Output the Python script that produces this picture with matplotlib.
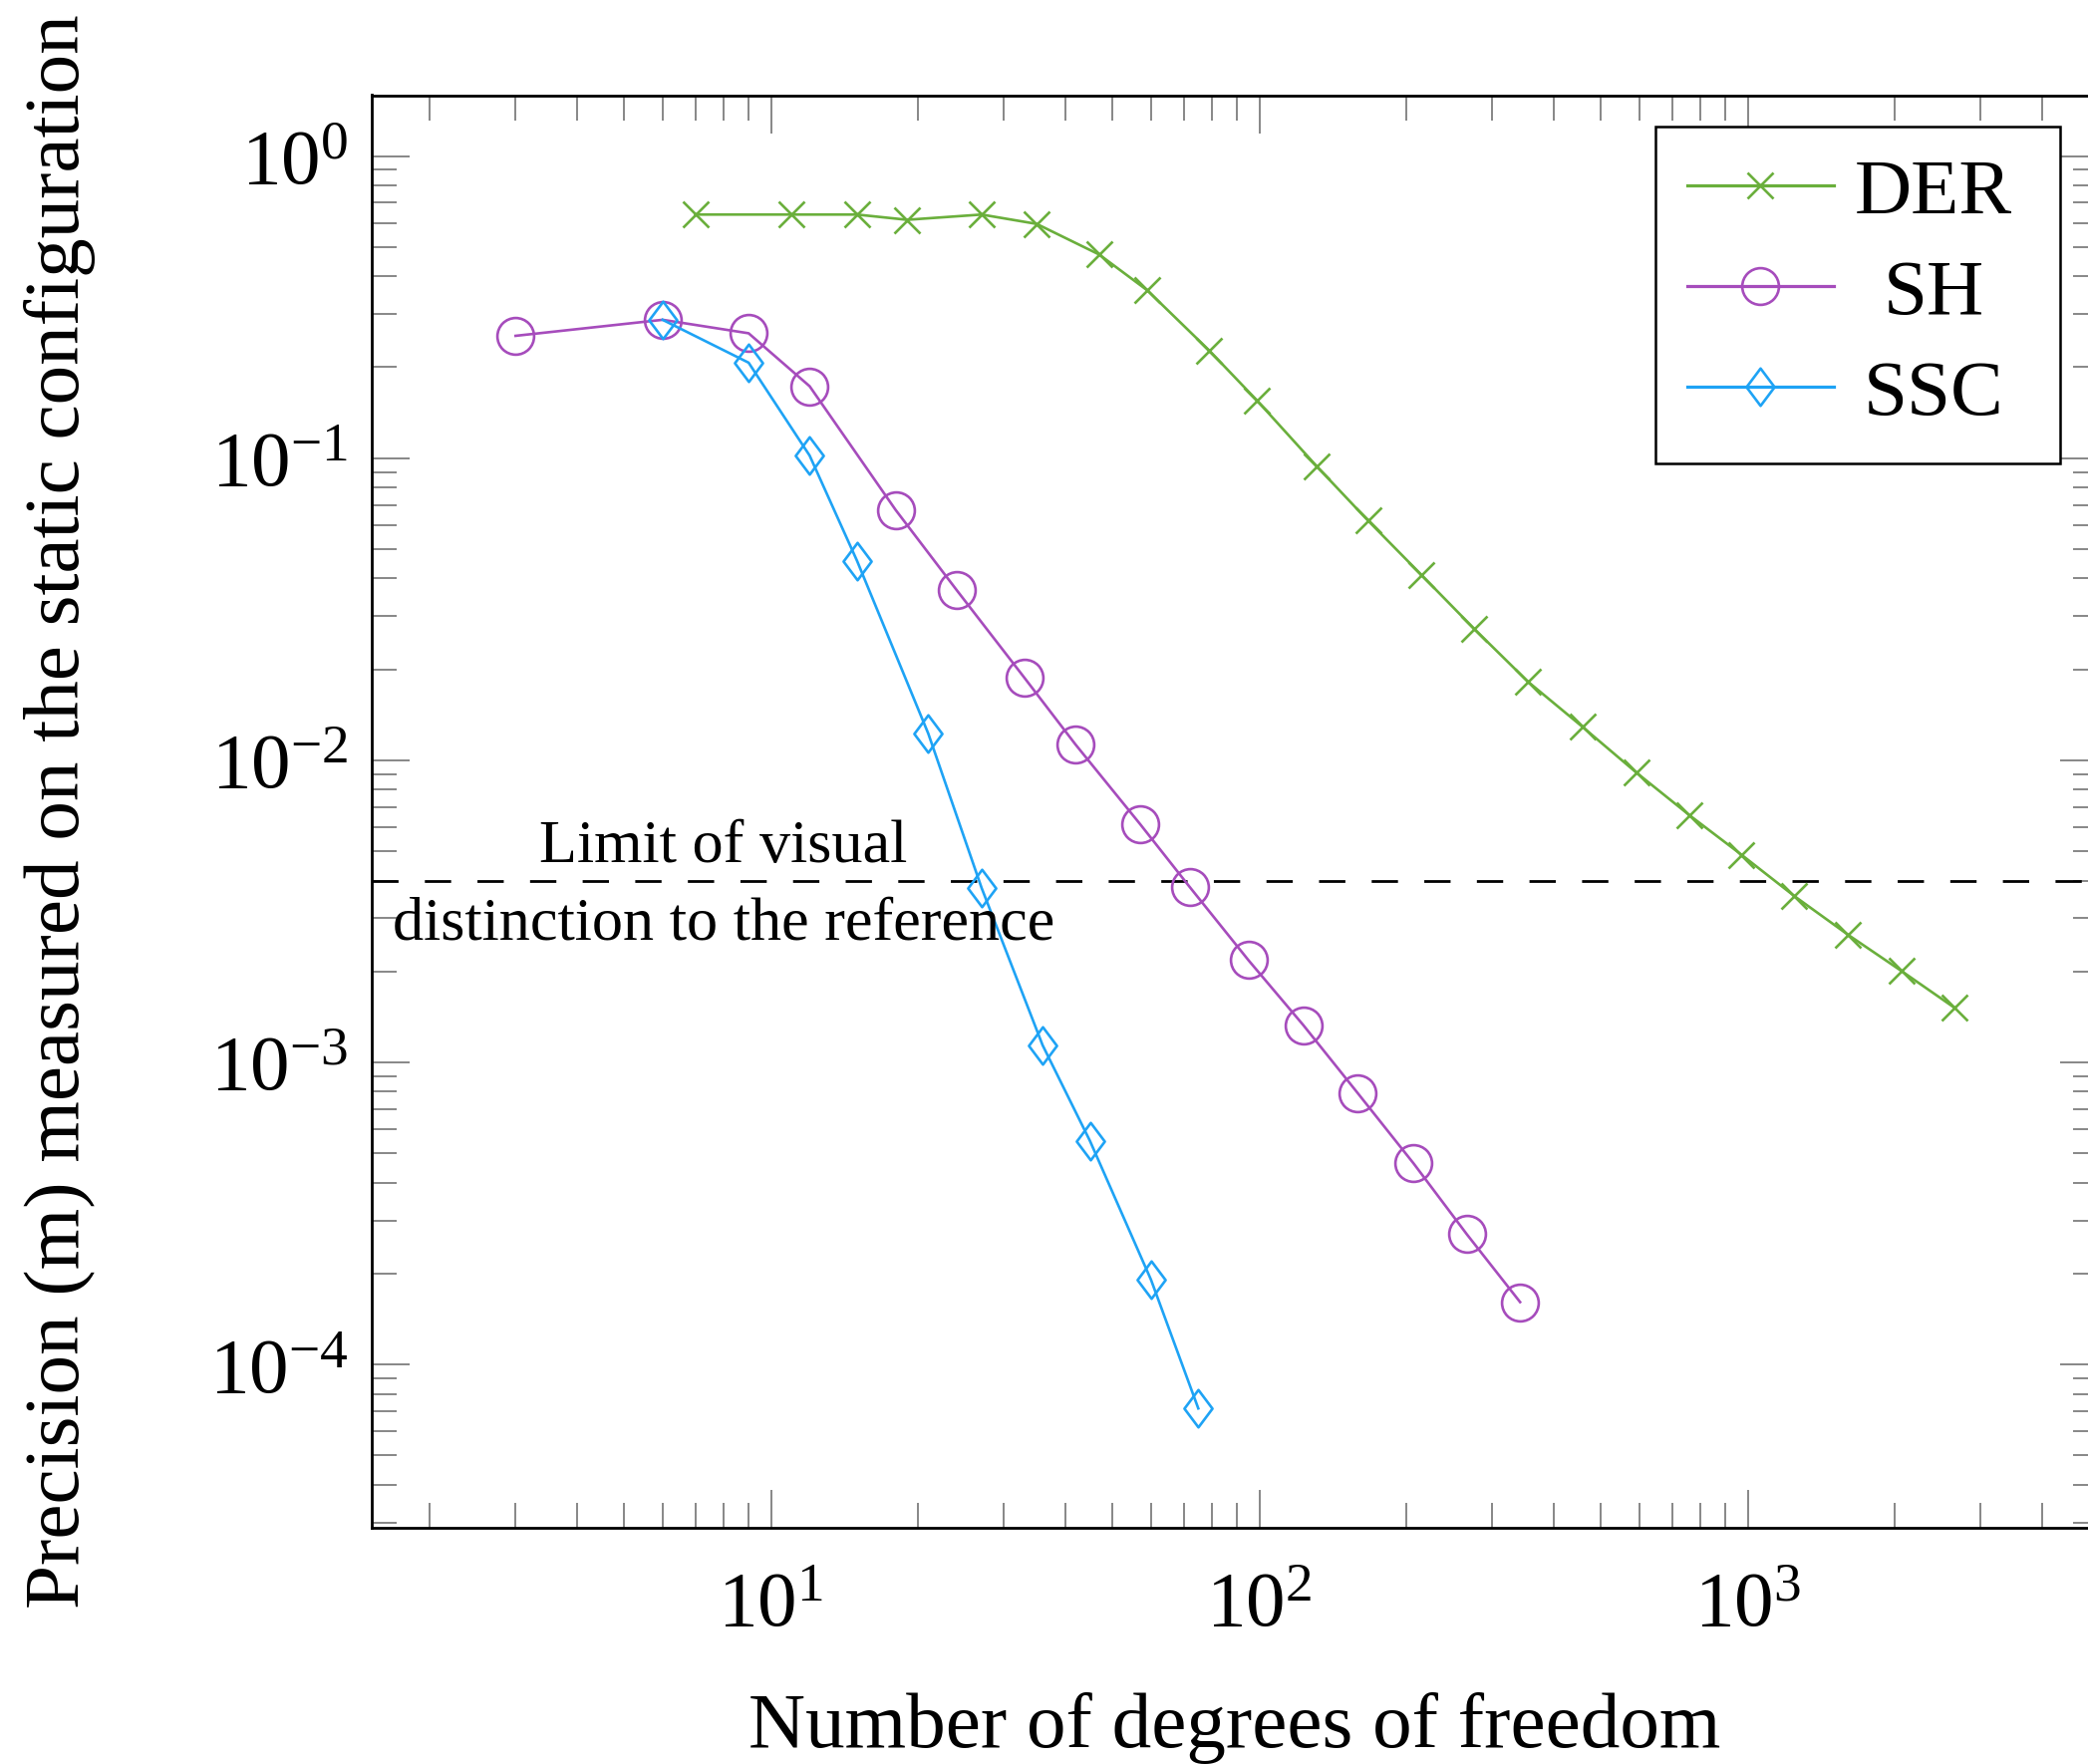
import numpy as np
import matplotlib
matplotlib.use("Agg")
import matplotlib.pyplot as plt
from matplotlib.path import Path
from matplotlib.ticker import LogLocator, NullFormatter

plt.rcParams['font.family'] = ['Liberation Serif', 'DejaVu Serif']
plt.rcParams['mathtext.fontset'] = 'stix'

# degrees of freedom vs precision (m)
der_dof = [7, 11, 15, 19, 27, 35, 47, 59, 79, 99, 131, 167, 215, 275, 355,
           459, 591, 759, 971, 1247, 1603, 2063, 2647]
der_err = [0.64, 0.64, 0.64, 0.615, 0.64, 0.596, 0.472, 0.359, 0.227, 0.155,
           0.0941, 0.0621, 0.0410, 0.0273, 0.0182, 0.0129, 0.00912, 0.00659,
           0.00487, 0.00355, 0.00265, 0.00201, 0.00152]

sh_dof = [3, 6, 9, 12, 18, 24, 33, 42, 57, 72, 95, 123, 159, 207, 266, 342]
sh_err = [0.254, 0.287, 0.259, 0.173, 0.0674, 0.0366, 0.0188, 0.0113, 0.00615,
          0.00381, 0.00218, 0.00133, 0.000792, 0.000463, 0.000270, 0.000161]

ssc_dof = [6, 9, 12, 15, 21, 27, 36, 45, 60, 75]
ssc_err = [0.287, 0.207, 0.102, 0.0458, 0.01225, 0.00378, 0.00114, 0.00055,
           0.000191, 0.0000716]

visualLimit = 0.004
seriesLabels = ['DER', 'SH', 'SSC']

colors = ['#6aaf3c', '#a64cbc', '#1ea3f5']
diamond = Path([(0, 1), (0.75, 0), (0, -1), (-0.75, 0), (0, 1)],
               [Path.MOVETO, Path.LINETO, Path.LINETO, Path.LINETO, Path.CLOSEPOLY])
markers = ['x', 'o', diamond]
markerSizes = [19, 26.5, 27]

fig = plt.figure(figsize=(20.95, 17.7), dpi=100)
ax = fig.add_axes([373 / 2095, 237 / 1770, 1732 / 2095, 1437.5 / 1770])

seriesList = [(der_dof, der_err), (sh_dof, sh_err), (ssc_dof, ssc_err)]
for i, (dof, err) in enumerate(seriesList):
    ax.plot(dof, err, color=colors[i], marker=markers[i], markersize=markerSizes[i],
            markerfacecolor='none', markeredgecolor=colors[i], markeredgewidth=1.9,
            linewidth=1.9, label=seriesLabels[i], zorder=3)

ax.axhline(visualLimit, color='black', linewidth=2, dashes=(9.5, 9.5), zorder=2)
ax.annotate("Limit of visual\ndistinction to the reference", xy=(8, visualLimit),
            xytext=(0, -4), textcoords='offset points',
            ha='center', va='center', multialignment='center', fontsize=44.8,
            linespacing=1.52, zorder=4)

ax.set_xscale('log')
ax.set_yscale('log')

# pgfplots-like 10% enlargement of the limits in log space
allX = np.log10(np.concatenate([der_dof, sh_dof, ssc_dof]))
allY = np.log10(np.concatenate([der_err, sh_err, ssc_err]))
xPad = 0.1 * (allX.max() - allX.min())
yPad = 0.1 * (allY.max() - allY.min())
ax.set_xlim(10 ** (allX.min() - xPad), 10 ** (allX.max() + xPad))
ax.set_ylim(10 ** (allY.min() - yPad), 10 ** (allY.max() + yPad))

for axis in [ax.xaxis, ax.yaxis]:
    axis.set_major_locator(LogLocator(base=10, numticks=20))
    axis.set_minor_locator(LogLocator(base=10, subs=np.arange(2, 10), numticks=100))
    axis.set_minor_formatter(NullFormatter())

ax.tick_params(which='both', direction='in', top=True, right=True, color='0.45',
               labelsize=57)
ax.tick_params(which='major', length=27.4, width=1.2, pad=17)
ax.tick_params(which='minor', length=18, width=1.2)
ax.tick_params(axis='x', which='major', pad=31)

for spine in ax.spines.values():
    spine.set_linewidth(2)
    spine.set_color('black')

ax.set_xlabel('Number of degrees of freedom', fontsize=57, labelpad=36)
ax.set_ylabel('Precision (m) measured on the static configuration', fontsize=57, labelpad=82)

legend = ax.legend(loc='upper right', bbox_to_anchor=(0.978, 0.978), borderaxespad=0,
                   fontsize=57, fancybox=False, framealpha=1, edgecolor='black',
                   handlelength=1.855, handletextpad=0.47, labelspacing=0.36,
                   borderpad=0.4)
legend.get_frame().set_linewidth(1.8)
for line in legend.get_lines():
    line.set_linewidth(2.3)

# centre the legend labels in their column, like pgfplots does
fig.canvas.draw()
renderer = fig.canvas.get_renderer()
legendTexts = legend.get_texts()
textWidths = [t.get_window_extent(renderer).width for t in legendTexts]
widest = max(textWidths)
for t, w in zip(legendTexts, textWidths):
    t.set_position(((widest - w) / 2 - 16, 0))

fig.savefig('out.png', dpi=100)
